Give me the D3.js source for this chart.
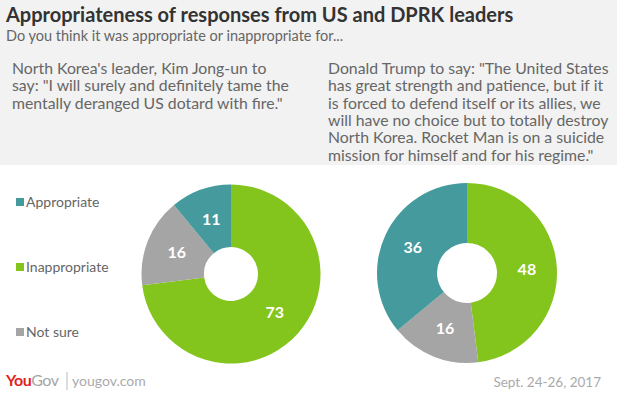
<!DOCTYPE html>
<html>
<head>
<meta charset="utf-8">
<script src="https://cdn.jsdelivr.net/npm/d3@7"></script>
<style>
  body { margin: 0; background: #fff; }
  svg { display: block; font-family: Lato, 'Open Sans', sans-serif; }
</style>
</head>
<body>
<div id="chart"></div>
<script>
'use strict';

const categories = ['Inappropriate', 'Not sure', 'Appropriate'];
const legendOrder = ['Appropriate', 'Inappropriate', 'Not sure'];
const kimValues = [73, 16, 11];
const trumpValues = [48, 16, 36];

const kimLines = [
  'North Korea\'s leader, Kim Jong-un to',
  'say: "I will surely and definitely tame the',
  'mentally deranged US dotard with fire."'
];
const trumpLines = [
  'Donald Trump to say: "The United States',
  'has great strength and patience, but if it',
  'is forced to defend itself or its allies, we',
  'will have no choice but to totally destroy',
  'North Korea. Rocket Man is on a suicide',
  'mission for himself and for his regime."'
];

const width = 617,
  height = 393;

const color = d3.scaleOrdinal()
  .domain(categories)
  .range(['#84c51d', '#a5a5a5', '#449a9c']);

const svg = d3.select('#chart')
  .append('svg')
  .attr('width', width)
  .attr('height', height);

// header band
svg.append('rect')
  .attr('width', width)
  .attr('height', 165)
  .attr('fill', '#f2f2f2');

svg.append('text')
  .attr('x', 6)
  .attr('y', 22)
  .attr('font-size', 20)
  .attr('font-weight', 'bold')
  .attr('fill', '#333')
  .text('Appropriateness of responses from US and DPRK leaders');

svg.append('text')
  .attr('x', 6)
  .attr('y', 41)
  .attr('font-size', 14.5)
  .attr('fill', '#666')
  .text('Do you think it was appropriate or inappropriate for...');

const quote = (lines, x) => {
  svg.append('g')
    .selectAll('text')
    .data(lines)
    .enter()
    .append('text')
    .attr('x', x)
    .attr('y', (d, i) => 74 + i * 17.3)
    .attr('font-size', 15.8)
    .attr('fill', '#666')
    .text(d => d);
};
quote(kimLines, 12);
quote(trumpLines, 328);

// legend
const legend = svg.append('g')
  .selectAll('g')
  .data(legendOrder)
  .enter()
  .append('g')
  .attr('transform', (d, i) => `translate(16, ${202 + i * 65})`);

legend.append('rect')
  .attr('y', -4)
  .attr('width', 8)
  .attr('height', 8)
  .attr('fill', d => color(d));

legend.append('text')
  .attr('x', 10)
  .attr('y', 4.5)
  .attr('font-size', 14)
  .attr('fill', '#666')
  .text(d => d);

// donuts
const pie = d3.pie().sort(null).value(d => d.value);

const donut = (values, cx, cy, inner, outer) => {
  const data = pie(categories.map((c, i) => ({ cat: c, value: values[i] })));
  const arc = d3.arc().innerRadius(inner).outerRadius(outer);
  const labelArc = d3.arc().innerRadius((inner + outer) / 2).outerRadius((inner + outer) / 2);

  const g = svg.append('g')
    .attr('transform', `translate(${cx}, ${cy})`);

  g.selectAll('path')
    .data(data)
    .enter()
    .append('path')
    .attr('d', arc)
    .attr('fill', d => color(d.data.cat));

  g.selectAll('text')
    .data(data)
    .enter()
    .append('text')
    .attr('transform', d => `translate(${labelArc.centroid(d)})`)
    .attr('text-anchor', 'middle')
    .attr('dy', '0.35em')
    .attr('font-size', 16)
    .attr('font-weight', 'bold')
    .attr('fill', '#fff')
    .text(d => d.data.value);
};

donut(kimValues, 231, 274, 27, 89.5);
donut(trumpValues, 467, 273, 30, 90);

// footer
const logo = svg.append('text')
  .attr('x', 6)
  .attr('y', 386)
  .attr('font-size', 16)
  .attr('font-weight', 'bold')
  .attr('letter-spacing', -0.5);
logo.append('tspan').attr('fill', '#e2231a').text('You');
logo.append('tspan').attr('fill', '#a5a5a5').attr('font-weight', 'normal').text('Gov');

svg.append('line')
  .attr('x1', 67).attr('x2', 67)
  .attr('y1', 372).attr('y2', 390)
  .attr('stroke', '#bbb');

svg.append('text')
  .attr('x', 72)
  .attr('y', 386)
  .attr('font-size', 14)
  .attr('fill', '#aaa')
  .text('yougov.com');

svg.append('text')
  .attr('x', 601)
  .attr('y', 387)
  .attr('text-anchor', 'end')
  .attr('font-size', 13.5)
  .attr('fill', '#aaa')
  .text('Sept. 24-26, 2017');
</script>
</body>
</html>
